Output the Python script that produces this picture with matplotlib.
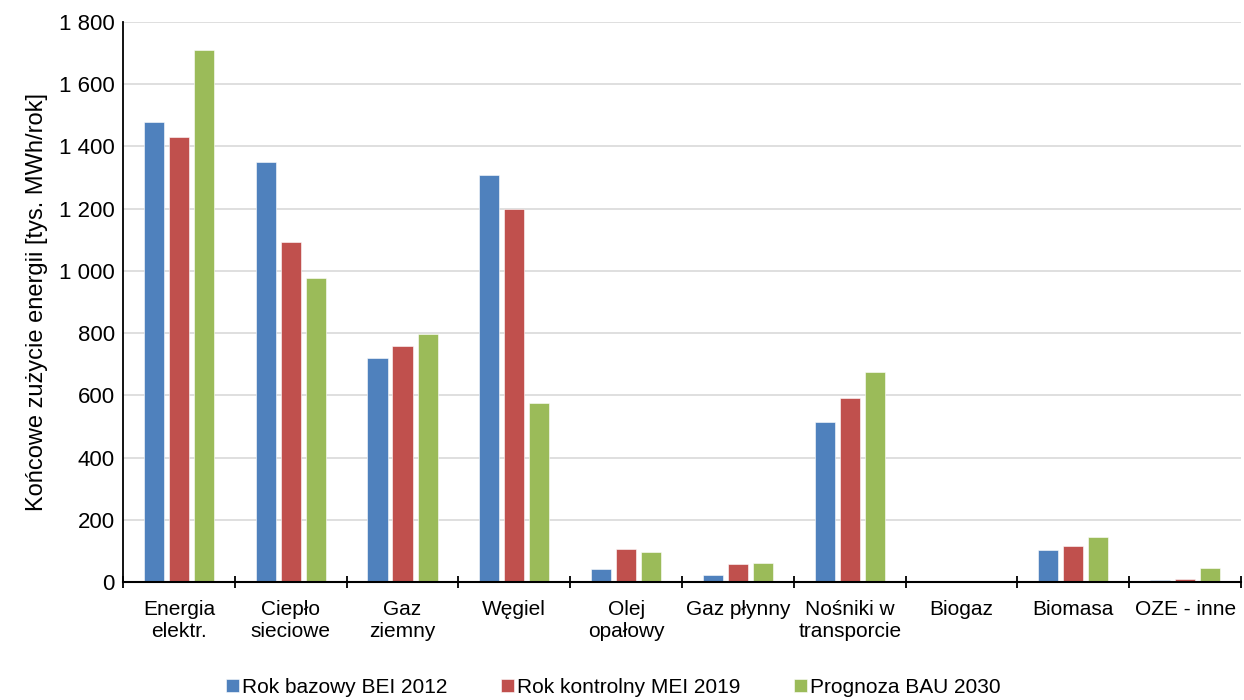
import matplotlib.pyplot as plt
import numpy as np

plt.rcParams['font.family'] = ['Liberation Sans', 'DejaVu Sans']

categories = ['Energia\nelektr.', 'Ciepło\nsieciowe', 'Gaz\nziemny', 'Węgiel', 'Olej\nopałowy',
              'Gaz płynny', 'Nośniki w\ntransporcie', 'Biogaz', 'Biomasa', 'OZE - inne']
bei_2012 = [1478, 1350, 720, 1308, 41, 21, 514, 0, 102, 6]
mei_2019 = [1430, 1093, 758, 1199, 105, 58, 591, 0, 117, 10]
bau_2030 = [1710, 977, 797, 575, 96, 61, 675, 0, 146, 44]
series_names = ['Rok bazowy BEI 2012', 'Rok kontrolny MEI 2019', 'Prognoza BAU 2030']
colors = ['#4f81bd', '#c0504d', '#9bbb59']

fig = plt.figure(figsize=(12.44, 7), dpi=100)
ax = fig.add_axes([0.0989, 0.1686, 0.8987, 0.8])

x = np.arange(len(categories))
step = 0.224
width = 0.18
for i, (vals, name, c) in enumerate(zip([bei_2012, mei_2019, bau_2030], series_names, colors)):
    ax.bar(x + (i - 1) * step, vals, width, color=c, label=name,
           edgecolor='white', linewidth=0.4, zorder=3)

ax.set_xlim(-0.5, len(categories) - 0.5)
ax.set_ylim(0, 1800)
ax.set_yticks(np.arange(0, 1801, 200))
ax.set_yticklabels([f'{v:,}'.replace(',', ' ') for v in range(0, 1801, 200)], fontsize=16)
ax.tick_params(axis='y', length=0, pad=6)
ax.grid(axis='y', color='#d9d9d9', linewidth=1.2, zorder=0)

ax.set_xticks(x)
ax.set_xticklabels(categories, fontsize=15, linespacing=1.2)
ax.tick_params(axis='x', which='major', length=0, pad=13)
ax.set_xticks(np.arange(-0.5, len(categories)), minor=True)
ax.tick_params(axis='x', which='minor', direction='inout', length=8, width=1.3, color='black')

for s in ['top', 'right']:
    ax.spines[s].set_visible(False)
ax.spines['left'].set_linewidth(1.3)
ax.spines['bottom'].set_linewidth(1.5)
ax.spines['bottom'].set_zorder(4)

ax.set_ylabel('Końcowe zużycie energii [tys. MWh/rok]', fontsize=17, labelpad=8)

fig.legend(loc='lower center', bbox_to_anchor=(0.493, -0.022), ncol=3, frameon=False,
           fontsize=15, handlelength=0.6, handleheight=0.6, handletextpad=0.15,
           columnspacing=2.6)

fig.savefig('out.png', dpi=100)
